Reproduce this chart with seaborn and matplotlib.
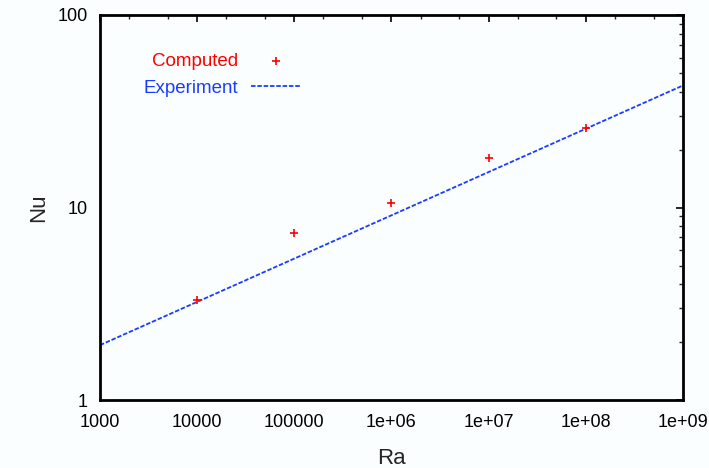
import numpy as np
import pandas as pd
import matplotlib
matplotlib.use("Agg")
import matplotlib.pyplot as plt
import seaborn as sns
from matplotlib.ticker import FixedLocator, FixedFormatter, LogLocator, NullFormatter

# computed Nusselt numbers
ra_computed = [1e4, 1e5, 1e6, 1e7, 1e8]
nu_computed = [3.3, 7.4, 10.6, 18.0, 25.8]

# experimental correlation (straight line on log-log)
ra_experiment = [1e3, 1e9]
nu_experiment = [1.93, 43.0]

x_ticks = [1e3, 1e4, 1e5, 1e6, 1e7, 1e8, 1e9]
x_tick_labels = ["1000", "10000", "100000", "1e+06", "1e+07", "1e+08", "1e+09"]
y_ticks = [1, 10, 100]
y_tick_labels = ["1", "10", "100"]

sns.set_style("white")
plt.rcParams['font.family'] = ['Liberation Sans', 'DejaVu Sans']

df_comp = pd.DataFrame({'Ra': ra_computed, 'Nu': nu_computed})
df_exp = pd.DataFrame({'Ra': ra_experiment, 'Nu': nu_experiment})

fig = plt.figure(figsize=(7.09, 4.68), dpi=100)
fig.patch.set_facecolor('#fbfefe')
ax = fig.add_axes([0.141, 0.145, 0.822, 0.823])
ax.set_facecolor('#fbfefe')

sns.scatterplot(data=df_comp, x='Ra', y='Nu', marker='+', color='red', s=30,
                linewidth=1.2, label='Computed', ax=ax, zorder=3)
sns.lineplot(data=df_exp, x='Ra', y='Nu', color='#1a3cff', linewidth=1.3,
             dashes=False, label='Experiment', ax=ax)
ax.lines[-1].set_linestyle((0, (2.5, 1.0)))

ax.set_xscale('log')
ax.set_yscale('log')
ax.set_xlim(1e3, 1e9)
ax.set_ylim(1, 100)

ax.xaxis.set_major_locator(FixedLocator(x_ticks))
ax.xaxis.set_major_formatter(FixedFormatter(x_tick_labels))
ax.yaxis.set_major_locator(FixedLocator(y_ticks))
ax.yaxis.set_major_formatter(FixedFormatter(y_tick_labels))
ax.xaxis.set_minor_locator(LogLocator(base=10, subs=[2, 5]))
ax.yaxis.set_minor_locator(LogLocator(base=10, subs=np.arange(2, 10)))
ax.xaxis.set_minor_formatter(NullFormatter())
ax.yaxis.set_minor_formatter(NullFormatter())

ax.tick_params(which='major', direction='in', length=5, width=1.2,
               top=True, right=True, labelsize=13, colors='black')
ax.tick_params(axis='x', which='major', pad=10)
ax.tick_params(axis='y', which='major', pad=9)
ax.tick_params(which='minor', direction='in', length=3, width=1,
               top=True, right=True)

for side in ax.spines.values():
    side.set_linewidth(2)
    side.set_color('black')

ax.set_xlabel('Ra', fontsize=16, labelpad=12)
ax.set_ylabel('Nu', fontsize=16, labelpad=6)

leg = ax.legend(loc='upper left', bbox_to_anchor=(0.045, 0.945), frameon=False,
                markerfirst=False, fontsize=13.5, handlelength=2.7,
                handletextpad=0.7, labelspacing=0.5,
                labelcolor=['red', '#1a3cff'])

fig.savefig('out.png', dpi=100, facecolor=fig.get_facecolor())
